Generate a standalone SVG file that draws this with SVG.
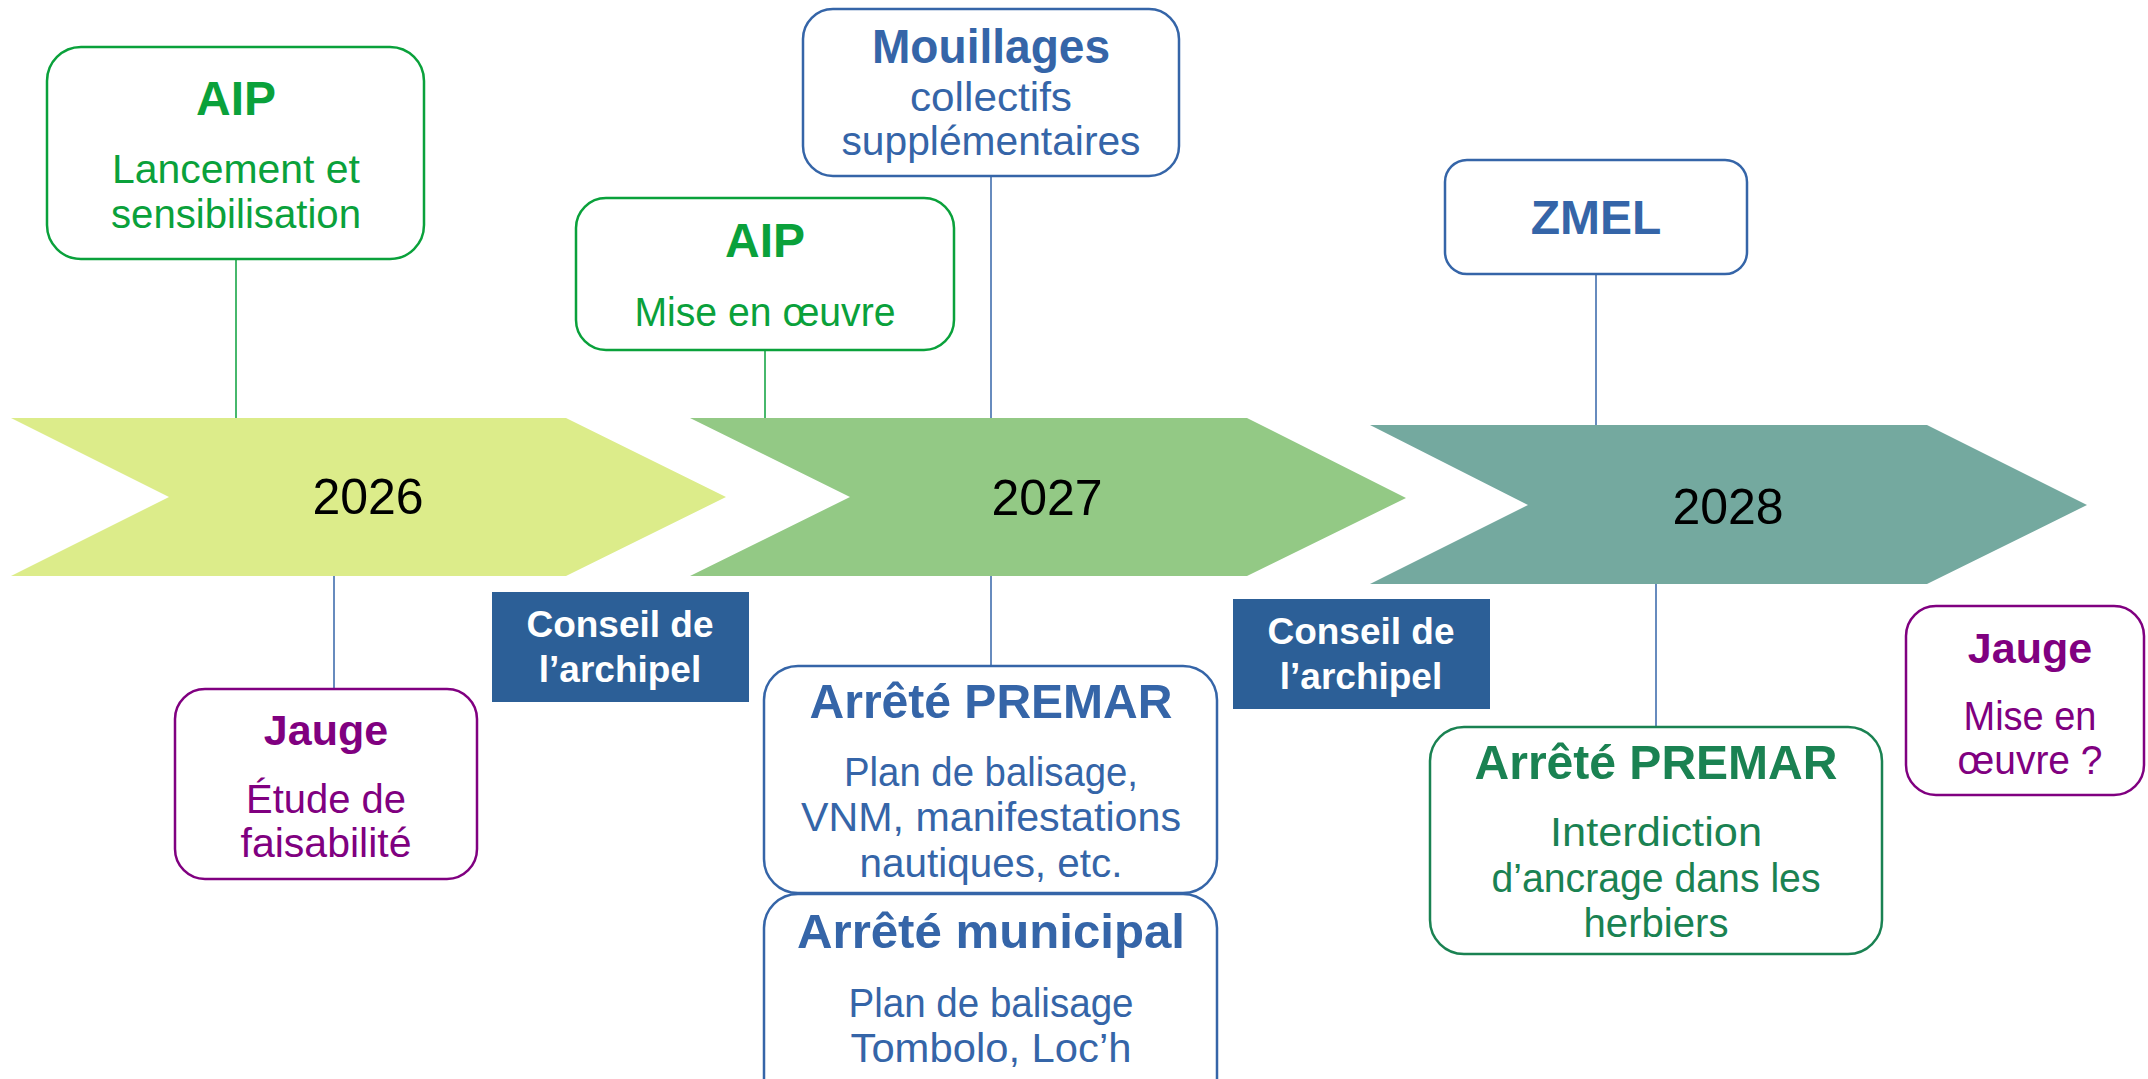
<svg xmlns="http://www.w3.org/2000/svg" width="2148" height="1079" viewBox="0 0 2148 1079">
<style>
text{font-family:"Liberation Sans",Arial,sans-serif;text-anchor:middle}
.t{font-weight:bold;font-size:48px}
.b{font-size:40px}
.g{fill:#0aa13b}.bl{fill:#3565a8}.p{fill:#800080}.dg{fill:#1a8252}.w{fill:#fff}
.box{fill:#fff;stroke-width:2.5}
.sg{stroke:#0aa13b}.sb{stroke:#3565a8}.sp{stroke:#800080}.sdg{stroke:#1a8252}
.yr{font-size:50px;fill:#000}
.ln{stroke-width:1.5;fill:none}
.c{font-weight:bold;font-size:37px;fill:#fff}
</style>
<g id="timeline">
<polygon points="11,418 566,418 726,497 566,576 11,576 169,497" fill="#dcec8a"/>
<polygon points="690,418 1247,418 1406,498 1247,576 690,576 850,497" fill="#93c985"/>
<polygon points="1370,425 1927,425 2087,505 1927,584 1370,584 1528,505" fill="#74a99f"/>
<text class="yr" x="368" y="514">2026</text>
<text class="yr" x="1047" y="515">2027</text>
<text class="yr" x="1728" y="524">2028</text>
</g>
<g id="connectors">
<line class="ln" x1="236" y1="259" x2="236" y2="418" stroke="#0aa13b"/>
<line class="ln" x1="765" y1="350" x2="765" y2="418" stroke="#0aa13b"/>
<line class="ln" x1="991" y1="176" x2="991" y2="418" stroke="#3565a8"/>
<line class="ln" x1="1596" y1="274" x2="1596" y2="425" stroke="#3565a8"/>
<line class="ln" x1="334" y1="576" x2="334" y2="689" stroke="#3565a8"/>
<line class="ln" x1="991" y1="576" x2="991" y2="666" stroke="#3565a8"/>
<line class="ln" x1="1656" y1="584" x2="1656" y2="727" stroke="#3565a8"/>
</g>
<g id="aip-lancement">
<rect class="box sg" x="47" y="47" width="377" height="212" rx="34"/>
<text class="t g" x="236" y="115">AIP</text>
<text class="b g" x="236" y="183" textLength="248" lengthAdjust="spacingAndGlyphs">Lancement et</text>
<text class="b g" x="236" y="228" textLength="250" lengthAdjust="spacingAndGlyphs">sensibilisation</text>
</g>
<g id="aip-mise">
<rect class="box sg" x="576" y="198" width="378" height="152" rx="30"/>
<text class="t g" x="765" y="257">AIP</text>
<text class="b g" x="765" y="326" textLength="261" lengthAdjust="spacingAndGlyphs">Mise en œuvre</text>
</g>
<g id="mouillages">
<rect class="box sb" x="803" y="9" width="376" height="167" rx="30"/>
<text class="t bl" x="991" y="63" textLength="238" lengthAdjust="spacingAndGlyphs">Mouillages</text>
<text class="b bl" x="991" y="111" textLength="162" lengthAdjust="spacingAndGlyphs">collectifs</text>
<text class="b bl" x="991" y="155" textLength="299" lengthAdjust="spacingAndGlyphs">supplémentaires</text>
</g>
<g id="zmel">
<rect class="box sb" x="1445" y="160" width="302" height="114" rx="22"/>
<text class="t bl" x="1596" y="234">ZMEL</text>
</g>
<g id="conseil-1">
<rect x="492" y="592" width="257" height="110" fill="#2c5f97"/>
<text class="c" x="620" y="637">Conseil de</text>
<text class="c" x="620" y="682">l’archipel</text>
</g>
<g id="conseil-2">
<rect x="1233" y="599" width="257" height="110" fill="#2c5f97"/>
<text class="c" x="1361" y="644">Conseil de</text>
<text class="c" x="1361" y="689">l’archipel</text>
</g>
<g id="jauge-etude">
<rect class="box sp" x="175" y="689" width="302" height="190" rx="30"/>
<text class="t p" x="326" y="745" style="font-size:43px">Jauge</text>
<text class="b p" x="326" y="813" textLength="160" lengthAdjust="spacingAndGlyphs">Étude de</text>
<text class="b p" x="326" y="857" textLength="171" lengthAdjust="spacingAndGlyphs">faisabilité</text>
</g>
<g id="premar-blue">
<rect class="box sb" x="764" y="666" width="453" height="227" rx="34"/>
<text class="t bl" x="991" y="718" textLength="363" lengthAdjust="spacingAndGlyphs">Arrêté PREMAR</text>
<text class="b bl" x="991" y="786" textLength="294" lengthAdjust="spacingAndGlyphs">Plan de balisage,</text>
<text class="b bl" x="991" y="831" textLength="380" lengthAdjust="spacingAndGlyphs">VNM, manifestations</text>
<text class="b bl" x="991" y="877" textLength="263" lengthAdjust="spacingAndGlyphs">nautiques, etc.</text>
</g>
<g id="arrete-municipal">
<rect class="box sb" x="764" y="894" width="453" height="220" rx="34"/>
<text class="t bl" x="991" y="948" textLength="388" lengthAdjust="spacingAndGlyphs">Arrêté municipal</text>
<text class="b bl" x="991" y="1017" textLength="285" lengthAdjust="spacingAndGlyphs">Plan de balisage</text>
<text class="b bl" x="991" y="1062" textLength="281" lengthAdjust="spacingAndGlyphs">Tombolo, Loc’h</text>
</g>
<g id="premar-green">
<rect class="box sdg" x="1430" y="727" width="452" height="227" rx="34"/>
<text class="t dg" x="1656" y="779" textLength="363" lengthAdjust="spacingAndGlyphs">Arrêté PREMAR</text>
<text class="b dg" x="1656" y="846" textLength="212" lengthAdjust="spacingAndGlyphs">Interdiction</text>
<text class="b dg" x="1656" y="892" textLength="329" lengthAdjust="spacingAndGlyphs">d’ancrage dans les</text>
<text class="b dg" x="1656" y="937" textLength="145" lengthAdjust="spacingAndGlyphs">herbiers</text>
</g>
<g id="jauge-mise">
<rect class="box sp" x="1906" y="606" width="238" height="189" rx="30"/>
<text class="t p" x="2030" y="663" style="font-size:43px">Jauge</text>
<text class="b p" x="2030" y="730" textLength="133" lengthAdjust="spacingAndGlyphs">Mise en</text>
<text class="b p" x="2030" y="774" textLength="145" lengthAdjust="spacingAndGlyphs">œuvre ?</text>
</g>
</svg>
